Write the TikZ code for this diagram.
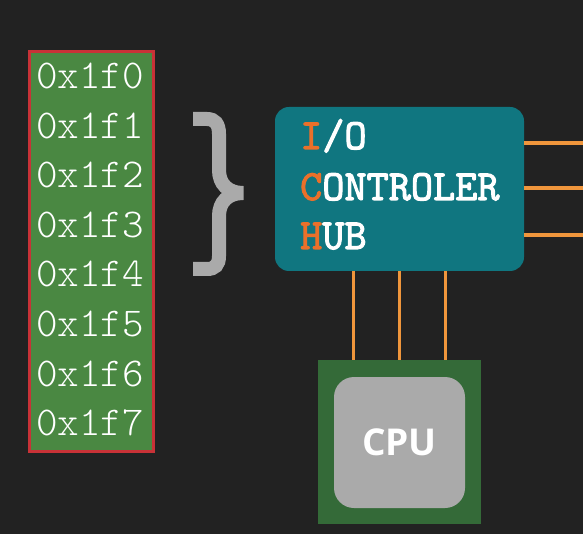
\documentclass[tikz,border=0pt]{standalone}
\usepackage{fontspec}
\newfontfamily\cpufont{Open Sans}
\newfontfamily\addrfont{Latin Modern Mono Light}
\newfontfamily\hubfont[FakeBold=2.5]{Latin Modern Mono}
\definecolor{bgdark}{RGB}{34,34,34}
\definecolor{addrgreen}{RGB}{74,136,66}
\definecolor{addrred}{RGB}{200,50,55}
\definecolor{hubteal}{RGB}{16,118,128}
\definecolor{hubletter}{RGB}{234,112,42}
\definecolor{wireorange}{RGB}{240,150,60}
\definecolor{cpugreen}{RGB}{52,106,56}
\definecolor{cpugrey}{RGB}{170,170,170}
\tikzset{
  addr/.style={anchor=base west,inner sep=0pt,text=white,font=\addrfont\fontsize{41}{41}\selectfont},
  hubline/.style={anchor=base west,inner sep=0pt,text=white,font=\hubfont\fontsize{43}{43}\selectfont},
  wire/.style={wireorange,line width=3.5pt}
}
\newcommand{\hubfirst}[1]{\textcolor{hubletter}{#1}}
\begin{document}
\begin{tikzpicture}[x=1pt,y=-1pt]
\useasboundingbox (0,0) rectangle (583,534);
\fill[bgdark] (0,0) rectangle (583,534);
\node[draw=addrred,line width=3pt,fill=addrgreen,minimum width=124pt,minimum height=399pt,inner sep=0pt] (mem) at (91,251.5) {};
\foreach \i in {0,...,7}
  \node[addr] (a\i) at (36,89+49.5*\i) {0x1f\i};
\draw[cpugrey,line width=14pt,line join=miter] (193,119) -- (207,119) .. controls (215,119) and (219,124) .. (219,134) -- (219,170) .. controls (219,184) and (228,193) .. (243,193) .. controls (228,193) and (219,202) .. (219,216) -- (219,256) .. controls (219,265) and (215,269) .. (207,269) -- (193,269);
\node[fill=hubteal,rounded corners=14pt,minimum width=249pt,minimum height=164pt,inner sep=0pt] (hub) at (399.5,189) {};
\node[hubline] (l1) at (300,149) {\hubfirst{I}/O};
\node[hubline] (l2) at (300,200) {\hubfirst{C}ONTROLER};
\node[hubline] (l3) at (300,249) {\hubfirst{H}UB};
\node[fill=cpugreen,minimum width=163pt,minimum height=164pt,inner sep=0pt] (cpu) at (399.5,442) {};
\node[fill=cpugrey,rounded corners=20pt,minimum width=131pt,minimum height=131pt,inner sep=0pt,text=white,font=\cpufont\bfseries\fontsize{37}{37}\selectfont] (core) at (399.5,442.5) {CPU};
\coordinate (r1) at (583,143);
\coordinate (r2) at (583,188);
\coordinate (r3) at (583,235);
\foreach \y in {1,2,3}
  \draw[wire] (hub.east |- r\y) -- (r\y);
\foreach \x in {353,399,445}
  \draw[wire,line width=3pt] (hub.south -| \x,0) -- (cpu.north -| \x,0);
\end{tikzpicture}
\end{document}
